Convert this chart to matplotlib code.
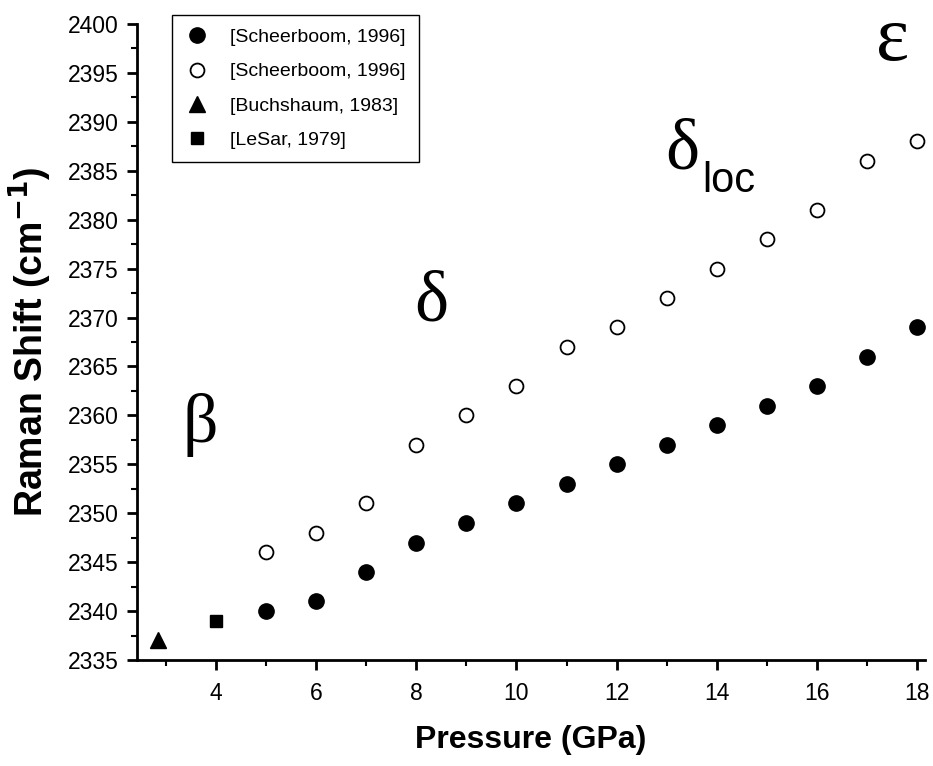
import matplotlib
matplotlib.use("Agg")
import matplotlib.pyplot as plt
from matplotlib.ticker import MultipleLocator

sans = ['Liberation Sans', 'DejaVu Sans']
plt.rcParams['font.family'] = sans

pressure = [5, 6, 7, 8, 9, 10, 11, 12, 13, 14, 15, 16, 17, 18]
scheer_filled = [2340, 2341, 2344, 2347, 2349, 2351, 2353, 2355, 2357, 2359, 2361, 2363, 2366, 2369]
scheer_open = [2346, 2348, 2351, 2357, 2360, 2363, 2367, 2369, 2372, 2375, 2378, 2381, 2386, 2388]
buch_x = [2.85]
buch_y = [2337]
lesar_x = [4]
lesar_y = [2339]

labels = ['[Scheerboom, 1996]', '[Scheerboom, 1996]', '[Buchshaum, 1983]', '[LeSar, 1979]']

fig = plt.figure(figsize=(9.33, 7.66), dpi=100)
ax = fig.add_axes([0.1468, 0.1384, 0.8446, 0.8303])

ax.plot(pressure, scheer_filled, 'o', color='black', ms=11, label=labels[0], linestyle='none')
ax.plot(pressure, scheer_open, 'o', mfc='white', mec='black', mew=1.3, ms=10, label=labels[1], linestyle='none')
ax.plot(buch_x, buch_y, '^', color='black', ms=11, label=labels[2], linestyle='none')
ax.plot(lesar_x, lesar_y, 's', color='black', ms=9, label=labels[3], linestyle='none')

ax.set_xlim(2.43, 18.15)
ax.set_ylim(2335, 2400)
ax.xaxis.set_major_locator(MultipleLocator(2))
ax.xaxis.set_minor_locator(MultipleLocator(1))
ax.yaxis.set_major_locator(MultipleLocator(5))
ax.yaxis.set_minor_locator(MultipleLocator(2.5))

for s in ['top', 'right']:
    ax.spines[s].set_visible(False)
for s in ['left', 'bottom']:
    ax.spines[s].set_linewidth(2)

ax.tick_params(which='major', direction='out', length=7, width=2, labelsize=16.5)
ax.tick_params(axis='x', which='major', pad=9)
ax.tick_params(axis='y', which='major', pad=6)
ax.tick_params(which='minor', direction='out', length=4, width=1.5)

ax.set_xlabel('Pressure (GPa)', fontsize=23, fontweight='bold', labelpad=14)
ax.set_ylabel('Raman Shift (cm$^{\\mathbf{-1}}$)', fontsize=27, fontweight='bold', labelpad=10)

leg = ax.legend(loc='upper left', bbox_to_anchor=(0.044, 1.014),
                prop={'size': 14},
                frameon=True, fancybox=False, edgecolor='black', framealpha=1,
                handlelength=1.2, handletextpad=1.1, labelspacing=0.85,
                borderpad=0.7, borderaxespad=0, numpoints=1)
leg.get_frame().set_linewidth(1.0)

serif = ['Liberation Serif', 'DejaVu Serif']
ax.text(3.7, 2359, '\u03b2', fontsize=50, family=serif, ha='center', va='center')
ax.text(8.3, 2371.5, '\u03b4', fontsize=52, family=serif, ha='center', va='center')
ax.text(13.3, 2387, '\u03b4', fontsize=52, family=serif, ha='center', va='center')
ax.text(13.7, 2384, 'loc', fontsize=30, ha='left', va='center')
ax.text(17.5, 2396.3, '\u03b5', fontsize=57, family=serif, ha='center', va='baseline')

fig.savefig('out.png', dpi=100)
